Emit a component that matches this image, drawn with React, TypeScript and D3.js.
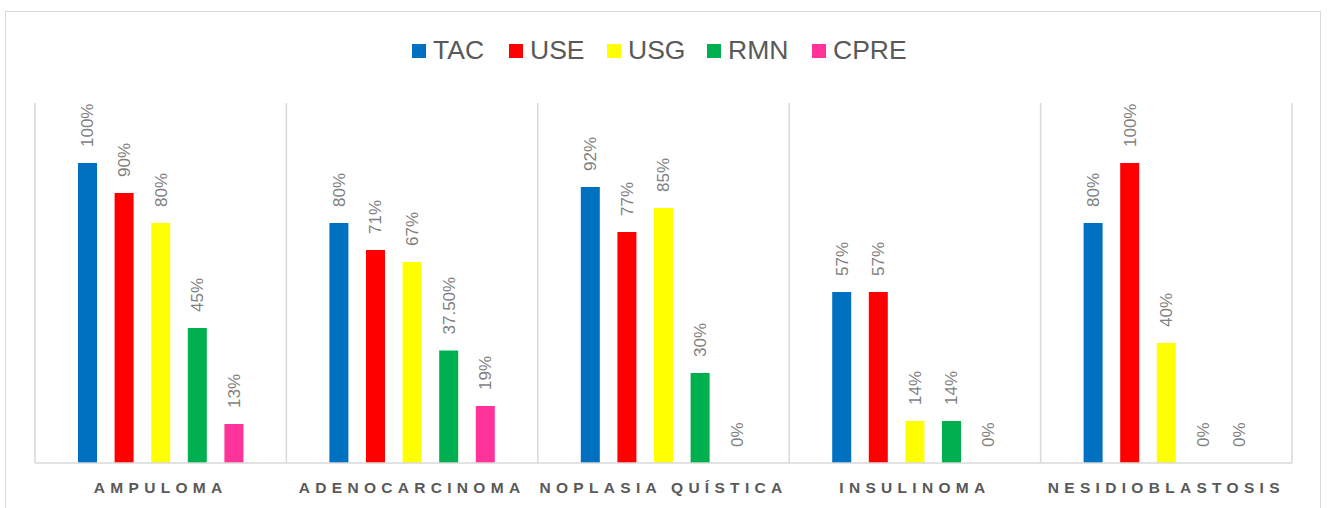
import React from "react";
import * as d3 from "d3";

const categories = ["AMPULOMA", "ADENOCARCINOMA", "NOPLASIA QUÍSTICA", "INSULINOMA", "NESIDIOBLASTOSIS"];
const seriesNames = ["TAC", "USE", "USG", "RMN", "CPRE"];
const seriesColors = ["#0070C0", "#FF0000", "#FFFF00", "#00B050", "#FF3399"];
const tacValues = [100, 80, 92, 57, 80];
const useValues = [90, 71, 77, 57, 100];
const usgValues = [80, 67, 85, 14, 40];
const rmnValues = [45, 37.5, 30, 14, 0];
const cpreValues = [13, 19, 0, 0, 0];
const seriesValues = [tacValues, useValues, usgValues, rmnValues, cpreValues];
const yDomain = [0, 120];

const W = 1328;
const H = 508;
const plotLeft = 35;
const plotRight = 1292;
const plotTop = 103;
const plotBottom = 463;

const fmt = (v: number) => (Number.isInteger(v) ? `${v}%` : `${v.toFixed(2)}%`);

export default function App() {
  const x0 = d3.scaleBand<string>().domain(categories).range([plotLeft, plotRight]).padding(0);
  const x1 = d3
    .scaleBand<string>()
    .domain(seriesNames)
    .range([0, x0.bandwidth()])
    .paddingInner(0.481)
    .paddingOuter(1.175);
  const y = d3.scaleLinear().domain(yDomain).range([plotBottom, plotTop]);

  const legendX = [412, 509, 607, 707, 812];
  const font = "'Liberation Sans', Arial, sans-serif";

  return (
    <svg width={W} height={H} style={{ position: "absolute", left: 0, top: 0, background: "#fff" }}>
      <rect x={5.5} y={11.5} width={1315} height={520} fill="#fff" stroke="#d9d9d9" strokeWidth={1} />
      {/* legend */}
      {seriesNames.map((s, i) => (
        <g key={s}>
          <rect x={legendX[i]} y={44} width={14} height={14} fill={seriesColors[i]} />
          <text x={legendX[i] + 21} y={59} fontFamily={font} fontSize={26.5} fill="#595959">
            {s}
          </text>
        </g>
      ))}
      {/* vertical category gridlines */}
      {categories.map((c) => (
        <line key={c} x1={x0(c)!} x2={x0(c)!} y1={plotTop} y2={plotBottom} stroke="#d9d9d9" strokeWidth={1.5} />
      ))}
      <line x1={plotRight} x2={plotRight} y1={plotTop} y2={plotBottom} stroke="#d9d9d9" strokeWidth={1.5} />
      {/* bars */}
      {categories.map((c, ci) => (
        <g key={c} transform={`translate(${x0(c)},0)`}>
          {seriesNames.map((s, si) => {
            const v = seriesValues[si][ci];
            const bx = x1(s)!;
            const bw = x1.bandwidth();
            const top = y(v);
            const cx = bx + bw / 2;
            const ly = top - 16;
            return (
              <g key={s}>
                {v > 0 && <rect x={bx} y={top} width={bw} height={plotBottom - top} fill={seriesColors[si]} />}
                <text
                  transform={`translate(${cx},${ly}) rotate(-90)`}
                  dy="0.35em"
                  fontFamily={font}
                  fontSize={17}
                  fill="#7f7f7f"
                  textAnchor="start"
                >
                  {fmt(v)}
                </text>
              </g>
            );
          })}
        </g>
      ))}
      <line x1={plotLeft} x2={plotRight} y1={plotBottom} y2={plotBottom} stroke="#d9d9d9" strokeWidth={1.5} />
      {/* category labels */}
      {categories.map((c) => (
        <text
          key={c}
          x={x0(c)! + x0.bandwidth() / 2}
          y={493}
          textAnchor="middle"
          fontFamily={font}
          fontSize={15.5}
          fontWeight="bold"
          letterSpacing={5.3}
          fill="#595959"
        >
          {c}
        </text>
      ))}
    </svg>
  );
}
